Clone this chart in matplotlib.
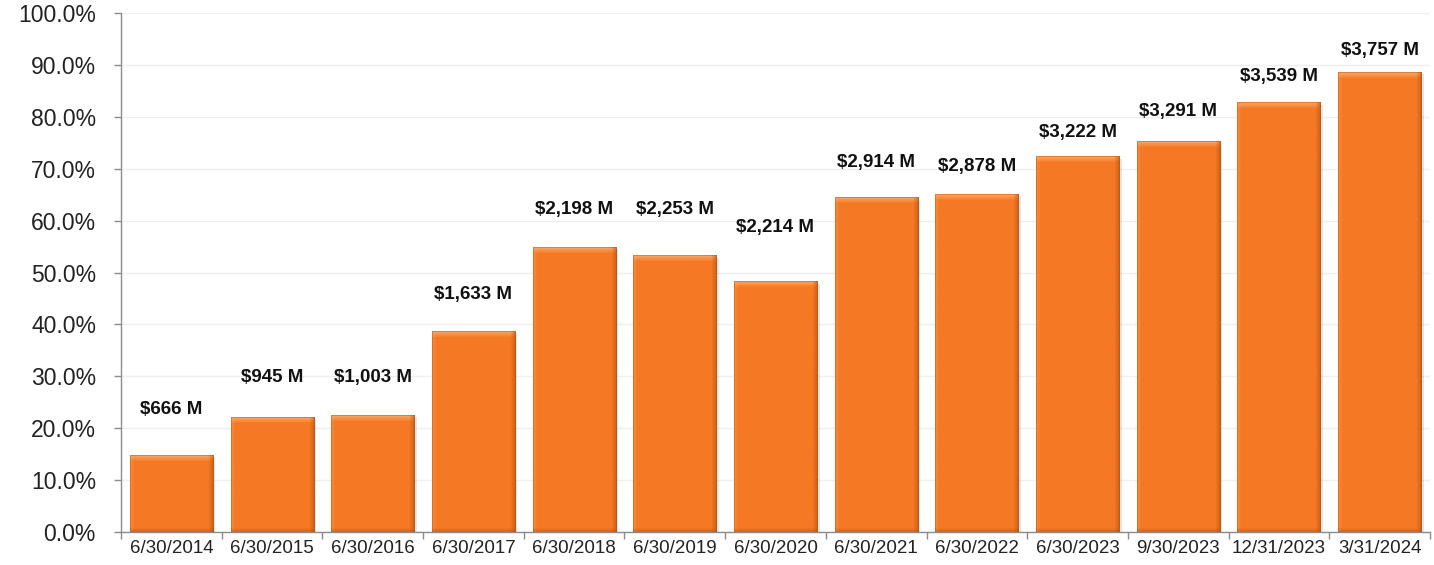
import numpy as np
import matplotlib
matplotlib.use("Agg")
import matplotlib.pyplot as plt
from matplotlib.ticker import FuncFormatter, MultipleLocator

plt.rcParams['font.family'] = ['Liberation Sans', 'DejaVu Sans']

# Funded ratio by reporting date, with total assets shown above each bar
dates = ["6/30/2014", "6/30/2015", "6/30/2016", "6/30/2017", "6/30/2018",
         "6/30/2019", "6/30/2020", "6/30/2021", "6/30/2022", "6/30/2023",
         "9/30/2023", "12/31/2023", "3/31/2024"]
funded_pct = [14.8, 22.0, 22.5, 38.7, 54.9, 53.2, 48.2, 64.4, 65.1, 72.3,
              75.3, 82.7, 88.6]
assets_musd = [666, 945, 1003, 1633, 2198, 2253, 2214, 2914, 2878, 3222,
               3291, 3539, 3757]

# vertical gap (points) between each bar top and its label
label_gap = [26.5, 23, 21, 20, 21, 27.5, 33, 19, 13.5, 11.5, 15, 13, 9.5]

W, H, DPI = 1434, 565, 100
fig = plt.figure(figsize=(W / DPI, H / DPI), dpi=DPI)
ax = fig.add_axes([121 / W, 1 - 532 / H, (1430 - 121) / W, (532 - 13) / H])

n = len(dates)
x = np.arange(n)
bar_w = 0.825

ax.set_xlim(-0.5, n - 0.5)
ax.set_ylim(0, 100)

base = np.array([245, 121, 36]) / 255.0
light = np.array([251, 180, 124]) / 255.0
dark = np.array([180, 80, 12]) / 255.0


def bevel_image(wpx, hpx):
    """RGB shading for a bevelled bar of the given pixel size."""
    wpx, hpx = max(int(wpx), 2), max(int(hpx), 2)
    yy, xx = np.mgrid[0:hpx, 0:wpx]
    img = np.ones((hpx, wpx, 3)) * base
    b = 6.0
    # top bevel: light, fading into base
    t = np.clip(1 - yy / b, 0, 1)[..., None]
    img = img * (1 - 0.75 * t) + light * 0.75 * t
    # left edge: slightly lighter
    l = np.clip(1 - xx / 4.0, 0, 1)[..., None]
    img = img * (1 - 0.3 * l) + light * 0.3 * l
    # right edge and bottom: darker
    r = np.clip(1 - (wpx - 1 - xx) / 5.0, 0, 1)[..., None]
    img = img * (1 - 0.6 * r) + dark * 0.6 * r
    bt = np.clip(1 - (hpx - 1 - yy) / 4.0, 0, 1)[..., None]
    img = img * (1 - 0.45 * bt) + dark * 0.45 * bt
    # thin dark rim
    rim = ((xx == 0) | (xx == wpx - 1) | (yy == 0))[..., None]
    img = np.where(rim, img * 0.55 + dark * 0.45, img)
    return np.clip(img, 0, 1)


fig.canvas.draw()
to_px = ax.transData
for xi, v in zip(x, funded_pct):
    x0, x1 = xi - bar_w / 2, xi + bar_w / 2
    p0 = to_px.transform((x0, 0))
    p1 = to_px.transform((x1, v))
    wpx, hpx = p1[0] - p0[0], p1[1] - p0[1]
    # soft drop shadow
    ax.bar(xi + 0.025, v, width=bar_w, bottom=-0.4, color="#000000",
           alpha=0.10, zorder=2, linewidth=0)
    ax.imshow(bevel_image(wpx, hpx), extent=(x0, x1, 0, v), aspect="auto",
              zorder=3, interpolation="bilinear")

ax.set_xlim(-0.5, n - 0.5)
ax.set_ylim(0, 100)

for xi, v, a, g in zip(x, funded_pct, assets_musd, label_gap):
    ax.annotate(f"${a:,} M", xy=(xi, v), xytext=(0, g),
                textcoords="offset points", ha="center", va="bottom",
                fontsize=13.5, fontweight="bold", color="#111111", zorder=5)

# axes styling
ax.yaxis.set_major_locator(MultipleLocator(10))
ax.yaxis.set_major_formatter(FuncFormatter(lambda v, _: f"{v:.1f}%"))
ax.grid(axis="y", color="#EFEFEF", linewidth=1.0, zorder=0)
ax.set_axisbelow(True)

ax.set_xticks(x)
ax.set_xticklabels(dates)
ax.set_xticks(np.arange(-0.5, n, 1.0), minor=True)
ax.tick_params(axis="x", which="major", length=0, pad=6, labelsize=13.5,
               labelcolor="#222222")
ax.tick_params(axis="x", which="minor", length=5, color="#8C8C8C", width=1)
ax.tick_params(axis="y", length=5, color="#8C8C8C", width=1, pad=13,
               labelsize=16.5, labelcolor="#222222")

for side in ("top", "right"):
    ax.spines[side].set_visible(False)
for side in ("left", "bottom"):
    ax.spines[side].set_color("#8C8C8C")
    ax.spines[side].set_linewidth(1.0)

fig.savefig("out.png", dpi=DPI, facecolor="white")
